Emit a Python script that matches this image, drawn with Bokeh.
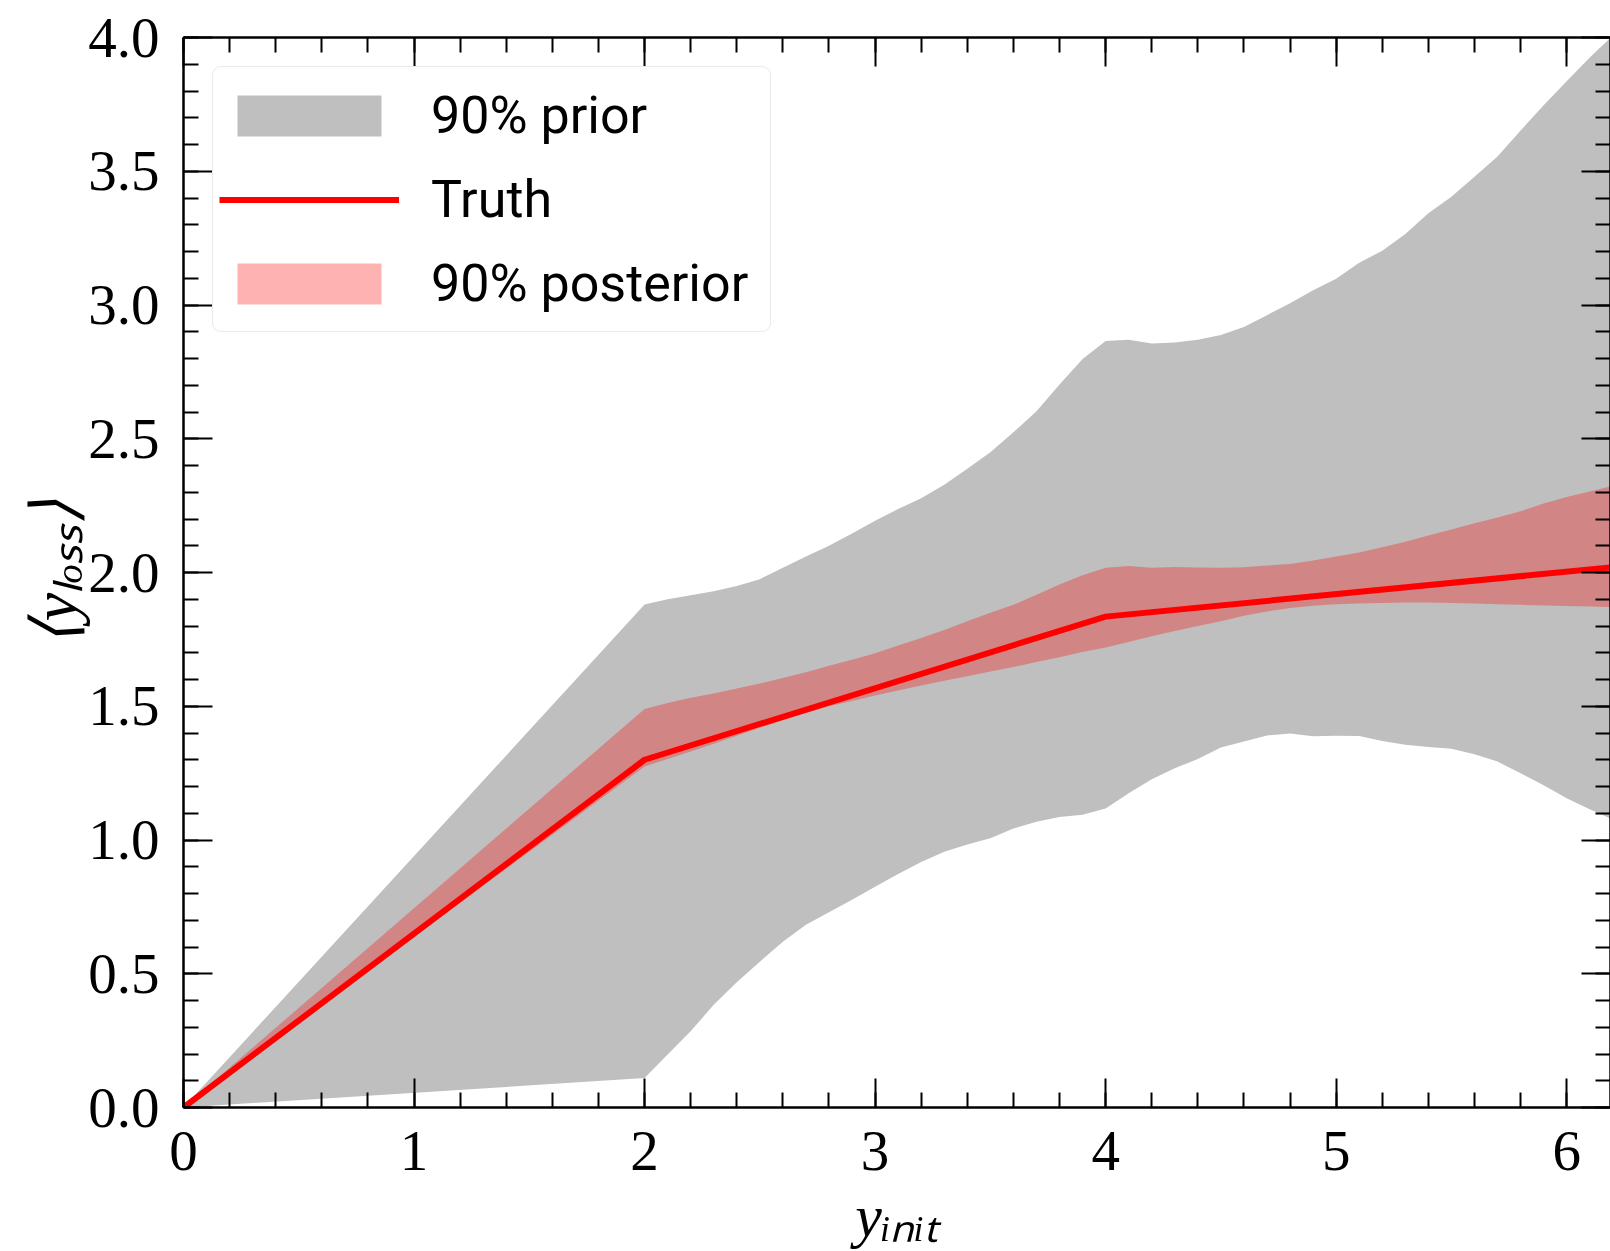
from bokeh.plotting import figure
from bokeh.models import (LinearAxis, SingleIntervalTicker, PrintfTickFormatter,
                          Legend, LegendItem, Range1d)
from bokeh.embed import file_html
from bokeh.resources import INLINE

# ---- data ----
x_grid = [0.0, 2.0, 2.1, 2.2, 2.3, 2.4, 2.5, 2.6, 2.7, 2.8, 2.9,
          3.0, 3.1, 3.2, 3.3, 3.4, 3.5, 3.6, 3.7, 3.8, 3.9,
          4.0, 4.1, 4.2, 4.3, 4.4, 4.5, 4.6, 4.7, 4.8, 4.9,
          5.0, 5.1, 5.2, 5.3, 5.4, 5.5, 5.6, 5.7, 5.8, 5.9,
          6.0, 6.1, 6.2]

prior_upper = [0.0, 1.88, 1.90, 1.915, 1.93, 1.95, 1.975, 2.018, 2.06, 2.10, 2.146,
               2.193, 2.237, 2.278, 2.328, 2.388, 2.45, 2.524, 2.603, 2.703, 2.798,
               2.865, 2.87, 2.856, 2.86, 2.87, 2.888, 2.918, 2.962, 3.007, 3.055,
               3.098, 3.158, 3.203, 3.265, 3.343, 3.405, 3.479, 3.555, 3.652, 3.747,
               3.836, 3.925, 4.007]

prior_lower = [0.0, 0.11, 0.198, 0.285, 0.384, 0.468, 0.545, 0.62, 0.683, 0.73, 0.777,
               0.825, 0.873, 0.918, 0.956, 0.983, 1.007, 1.043, 1.068, 1.086, 1.094,
               1.118, 1.175, 1.227, 1.268, 1.303, 1.346, 1.368, 1.391, 1.398, 1.388,
               1.39, 1.389, 1.37, 1.356, 1.348, 1.341, 1.321, 1.293, 1.25, 1.205,
               1.156, 1.115, 1.077]

posterior_upper = [0.0, 1.49, 1.512, 1.532, 1.548, 1.566, 1.585, 1.606, 1.627, 1.651, 1.674,
                   1.698, 1.727, 1.755, 1.785, 1.818, 1.85, 1.879, 1.917, 1.955, 1.99,
                   2.018, 2.024, 2.018, 2.021, 2.019, 2.018, 2.02, 2.026, 2.032, 2.045,
                   2.06, 2.075, 2.094, 2.115, 2.138, 2.161, 2.184, 2.206, 2.229, 2.258,
                   2.282, 2.303, 2.324]

posterior_lower = [0.0, 1.275, 1.303, 1.331, 1.36, 1.39, 1.42, 1.448, 1.475, 1.50, 1.52,
                   1.54, 1.559, 1.578, 1.595, 1.612, 1.63, 1.647, 1.665, 1.683, 1.703,
                   1.72, 1.74, 1.762, 1.781, 1.80, 1.818, 1.838, 1.854, 1.867, 1.876,
                   1.881, 1.884, 1.886, 1.888, 1.888, 1.886, 1.884, 1.881, 1.879, 1.877,
                   1.875, 1.873, 1.871]

truth_x = [0.0, 2.0, 4.0, 6.2]
truth_y = [0.0, 1.30, 1.835, 2.02]

legend_labels = ["90% prior", "Truth", "90% posterior"]
x_title = "y\u1d62\u2099\u1d62\u209c"                 # y_init
y_title = "\u27e8y\u2097\u2092\u209b\u209b\u27e9"      # <y_loss>

SERIF = "Liberation Serif"

p = figure(width=1610, height=1251, output_backend="svg", toolbar_location=None,
           x_range=Range1d(0, 6.19), y_range=Range1d(0, 4.0),
           min_border_left=183, min_border_right=0, min_border_top=37,
           min_border_bottom=143)
p.grid.grid_line_color = None
p.outline_line_color = None
p.background_fill_color = "white"
p.border_fill_color = "white"

r_prior = p.varea(x=x_grid, y1=prior_lower, y2=prior_upper,
                  fill_color="#bfbfbf", fill_alpha=1.0)
r_post = p.varea(x=x_grid, y1=posterior_lower, y2=posterior_upper,
                 fill_color="#ff0000", fill_alpha=0.3)
r_truth = p.line(x=truth_x, y=truth_y, line_color="#ff0000", line_width=6)


def style_axis(ax, show_labels, standoff=0):
    ax.axis_line_width = 2.5
    ax.axis_line_color = "black"
    ax.major_tick_in = 29
    ax.major_tick_out = 0
    ax.minor_tick_in = 15
    ax.minor_tick_out = 0
    ax.major_tick_line_width = 2
    ax.minor_tick_line_width = 2
    ax.major_tick_line_color = "black"
    ax.minor_tick_line_color = "black"
    if show_labels:
        ax.major_label_text_font = SERIF
        ax.major_label_text_font_size = "57px"
        ax.major_label_text_color = "black"
        ax.major_label_standoff = standoff
    else:
        ax.major_label_text_font_size = "0px"
        ax.major_label_text_color = None
        ax.major_label_standoff = 0


xa = p.xaxis[0]
xa.ticker = SingleIntervalTicker(interval=1, num_minor_ticks=5)
xa.formatter = PrintfTickFormatter(format="%d")
style_axis(xa, True, 24)
xa.axis_label = x_title
xa.axis_label_text_font = SERIF
xa.axis_label_text_font_style = "italic"
xa.axis_label_text_font_size = "60px"
xa.axis_label_text_color = "black"
xa.axis_label_standoff = 10

ya = p.yaxis[0]
ya.ticker = SingleIntervalTicker(interval=0.5, num_minor_ticks=5)
ya.formatter = PrintfTickFormatter(format="%.1f")
style_axis(ya, True, 24)
ya.axis_label = y_title
ya.axis_label_text_font = SERIF
ya.axis_label_text_font_style = "italic"
ya.axis_label_text_font_size = "64px"
ya.axis_label_text_color = "black"
ya.axis_label_standoff = -5

top = LinearAxis(ticker=SingleIntervalTicker(interval=1, num_minor_ticks=5))
style_axis(top, False)
p.add_layout(top, "above")
right = LinearAxis(ticker=SingleIntervalTicker(interval=0.5, num_minor_ticks=5))
style_axis(right, False)
p.add_layout(right, "right")

legend = Legend(items=[LegendItem(label=legend_labels[0], renderers=[r_prior]),
                       LegendItem(label=legend_labels[1], renderers=[r_truth]),
                       LegendItem(label=legend_labels[2], renderers=[r_post])],
                location="top_left")
legend.margin = 29
legend.padding = 6
legend.spacing = 0
legend.glyph_width = 180
legend.glyph_height = 51
legend.label_height = 84
legend.label_width = 333
legend.label_standoff = 32
legend.label_text_font = "Roboto"
legend.label_text_font_size = "52px"
legend.label_text_color = "black"
legend.border_line_color = "#d5d5d5"
legend.border_line_width = 1.5
legend.background_fill_color = "white"
legend.background_fill_alpha = 1.0
try:
    legend.border_radius = 9
except Exception:
    pass
p.add_layout(legend)

open("out.html", "w").write(file_html(p, INLINE))
